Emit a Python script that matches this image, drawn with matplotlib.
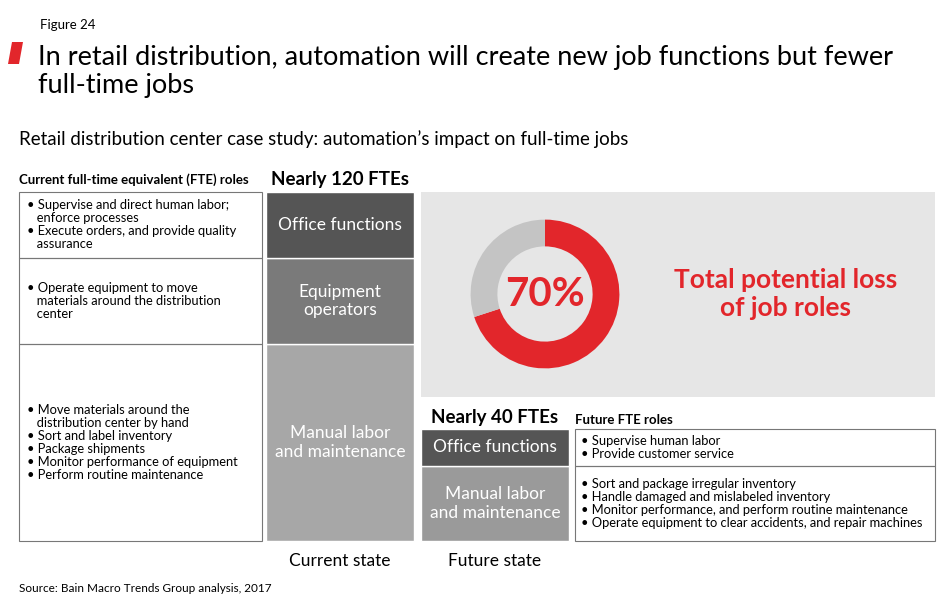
import matplotlib.pyplot as plt
from matplotlib.patches import Rectangle, Polygon

plt.rcParams["font.family"] = "Lato"

# data
current_roles = ["Office functions", "Equipment\noperators", "Manual labor\nand maintenance"]
current_fte = [22, 29, 66]
future_roles = ["Office functions", "Manual labor\nand maintenance"]
future_fte = [12.7, 25]
loss_share = [70, 30]

current_tasks = [
    "• Supervise and direct human labor;\n   enforce processes\n• Execute orders, and provide quality\n   assurance",
    "• Operate equipment to move\n   materials around the distribution\n   center",
    "• Move materials around the\n   distribution center by hand\n• Sort and label inventory\n• Package shipments\n• Monitor performance of equipment\n• Perform routine maintenance",
]
future_tasks = [
    "• Supervise human labor\n• Provide customer service",
    "• Sort and package irregular inventory\n• Handle damaged and mislabeled inventory\n• Monitor performance, and perform routine maintenance\n• Operate equipment to clear accidents, and repair machines",
]

cur_colors = ["#555555", "#7a7a7a", "#a7a7a7"]
fut_colors = ["#555555", "#9a9a9a"]
red = "#e2262b"

fig = plt.figure(figsize=(9.5, 6.15), dpi=100)
ax = fig.add_axes([0, 0, 1, 1])
ax.set_xlim(0, 950)
ax.set_ylim(615, 0)
ax.axis("off")

px = 349 / sum(current_fte)  # pixels per FTE
base = 541


def stack(x, roles, values, colors):
    # stack bottom-up from the last role; return edges in role order
    y = base
    edges = []
    for role, v, c in zip(roles[::-1], values[::-1], colors[::-1]):
        h = v * px
        ax.bar(x, -h, bottom=y, width=148, color=c, edgecolor="white", linewidth=1)
        ax.text(x, y - h / 2, role, ha="center", va="center", color="white", fontsize=12.5)
        edges.append((y - h, y))
        y -= h
    return edges[::-1]


cur_edges = stack(340, current_roles, current_fte, cur_colors)
for (top, bot), txt in zip(cur_edges, current_tasks):
    ax.add_patch(Rectangle((19, top), 243, bot - top, fill=False, edgecolor="#777777", lw=0.8))
    ax.text(27, (top + bot) / 2, txt, ha="left", va="center", fontsize=9.3, linespacing=1.1)

fut_edges = stack(495, future_roles, future_fte, fut_colors)
for (top, bot), txt in zip(fut_edges, future_tasks):
    ax.add_patch(Rectangle((575, top), 360, bot - top, fill=False, edgecolor="#777777", lw=0.8))
    ax.text(581, (top + bot) / 2, txt, ha="left", va="center", fontsize=9.3, linespacing=1.1)

# grey panel and donut
ax.add_patch(Rectangle((421, 192), 514, 205, color="#e6e6e6", lw=0))
dax = fig.add_axes([452 / 950, 1 - 387 / 615, 186 / 950, 186 / 615])
dax.pie(loss_share, colors=[red, "#c4c4c4"], startangle=90, counterclock=False,
        wedgeprops=dict(width=0.36, edgecolor="none"))
dax.set_aspect("equal")
dax.text(0, 0, f"{loss_share[0]}%", ha="center", va="center", color=red, fontsize=29, fontweight="bold")
ax.text(786, 294, "Total potential loss\nof job roles", ha="center", va="center", color=red,
        fontsize=19, fontweight="bold", linespacing=1.2)

# labels
ax.text(340, 180, "Nearly 120 FTEs", ha="center", va="center", fontsize=13.5, fontweight="bold")
ax.text(495, 418, "Nearly 40 FTEs", ha="center", va="center", fontsize=13.5, fontweight="bold")
ax.text(19, 180, "Current full-time equivalent (FTE) roles", ha="left", va="center", fontsize=9.5, fontweight="bold")
ax.text(575, 420, "Future FTE roles", ha="left", va="center", fontsize=9.5, fontweight="bold")
ax.text(340, 561, "Current state", ha="center", va="center", fontsize=12.5)
ax.text(495, 561, "Future state", ha="center", va="center", fontsize=12.5)

# titles
ax.text(40, 25, "Figure 24", ha="left", va="center", fontsize=9.5)
ax.add_patch(Polygon([[12, 42], [23, 42], [19, 64], [8, 64]], color=red, lw=0))
ax.text(38, 72, "In retail distribution, automation will create new job functions but fewer\nfull-time jobs",
        ha="left", va="center", fontsize=19.5, linespacing=1.15)
ax.text(19, 139, "Retail distribution center case study: automation’s impact on full-time jobs",
        ha="left", va="center", fontsize=13.5)
ax.text(19, 589, "Source: Bain Macro Trends Group analysis, 2017", ha="left", va="center", fontsize=8.5)

fig.savefig("out.png", dpi=100)
